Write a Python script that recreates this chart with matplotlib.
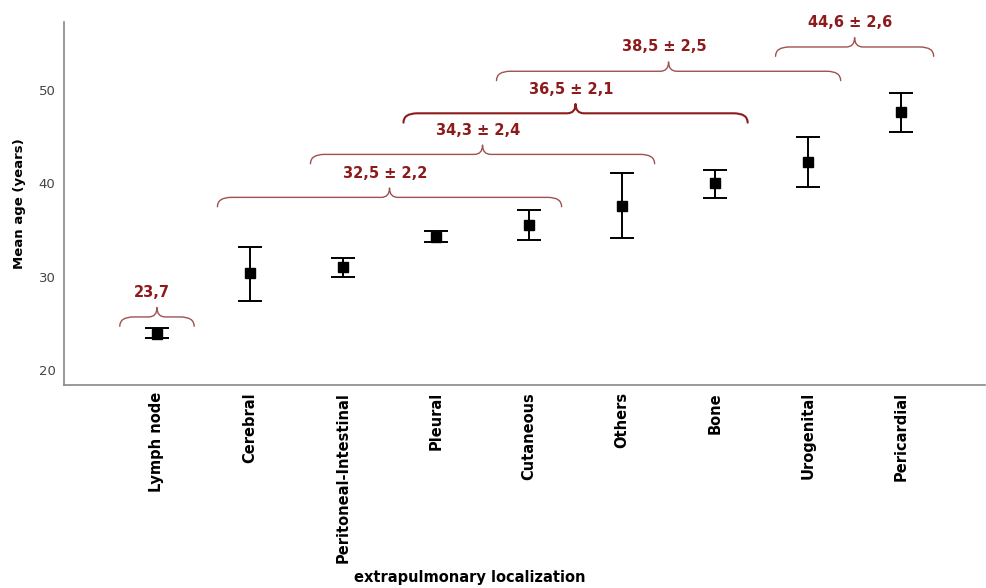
import matplotlib
matplotlib.use("Agg")
import matplotlib.pyplot as plt
from matplotlib.path import Path
from matplotlib.patches import PathPatch

categories = ["Lymph node", "Cerebral", "Peritoneal-Intestinal", "Pleural", "Cutaneous",
              "Others", "Bone", "Urogenital", "Pericardial"]
means = [23.9, 30.4, 31.0, 34.3, 35.5, 37.6, 40.0, 42.3, 47.6]
lower = [23.4, 27.4, 30.0, 33.7, 33.9, 34.1, 38.4, 39.6, 45.5]
upper = [24.5, 33.2, 32.0, 34.9, 37.1, 41.1, 41.4, 45.0, 49.7]

# group annotations: label, first category, last category, bracket level
group_labels = ["23,7", "32,5 ± 2,2", "34,3 ± 2,4", "36,5 ± 2,1", "38,5 ± 2,5", "44,6 ± 2,6"]
group_start = [0, 1, 2, 3, 4, 7]
group_end = [0, 4, 5, 6, 7, 8]
group_level = [25.7, 38.5, 43.1, 47.5, 52.0, 54.6]

plt.rcParams['font.family'] = ['DejaVu Sans']
fig = plt.figure(figsize=(9.87, 5.88), dpi=100)
ax = fig.add_axes([0.0648, 0.345, 0.933, 0.618])

x = list(range(len(categories)))
yerr = [[m - l for m, l in zip(means, lower)], [u - m for m, u in zip(means, upper)]]
ax.errorbar(x, means, yerr=yerr, fmt='s', color='black', markersize=7,
            ecolor='black', elinewidth=1.4, capsize=8.5, capthick=1.4)

def brace(ax, x0, x1, y, color, lw, d=1.0, h=1.0, r=0.15, tw=0.09):
    xm = (x0 + x1) / 2
    verts = [(x0, y - d), (x0, y), (x0 + r, y),
             (xm - tw, y),
             (xm, y), (xm, y + h),
             (xm, y), (xm + tw, y),
             (x1 - r, y),
             (x1, y), (x1, y - d)]
    codes = [Path.MOVETO, Path.CURVE3, Path.CURVE3,
             Path.LINETO,
             Path.CURVE3, Path.CURVE3,
             Path.CURVE3, Path.CURVE3,
             Path.LINETO,
             Path.CURVE3, Path.CURVE3]
    ax.add_patch(PathPatch(Path(verts, codes), facecolor='none', edgecolor=color,
                           lw=lw, capstyle='round', joinstyle='round', clip_on=False))
    return xm

for lab, s, e, lev in zip(group_labels, group_start, group_end, group_level):
    x0 = s - 0.4 if s == e else s - 0.35
    x1 = e + 0.4 if s == e else e + 0.35
    if lab.startswith("36,5"):
        col, lw = '#8e1b1b', 1.5
    else:
        col, lw = '#a05050', 1.0
    xm = brace(ax, x0, x1, lev, col, lw)
    ax.text(xm - 0.05, lev + 2.6, lab, ha='center', va='center', color='#8e1b1b',
            fontsize=10.5, fontweight='bold', clip_on=False)

ax.set_xlim(-1.0, 8.9)
ax.set_ylim(18.4, 57.3)
ax.set_yticks([20, 30, 40, 50])
ax.set_xticks(x)
ax.set_xticklabels(categories, rotation=90, fontsize=10.5, fontweight='bold', va='top')
ax.tick_params(axis='x', length=0, pad=5)
ax.tick_params(axis='y', length=0, labelsize=9.5, labelcolor='#444444', pad=6)
for side in ['top', 'right']:
    ax.spines[side].set_visible(False)
for side in ['left', 'bottom']:
    ax.spines[side].set_color('#888888')
    ax.spines[side].set_linewidth(1.2)
ax.set_ylabel("Mean age (years)", fontsize=9.5, fontweight='bold', labelpad=9)
fig.text(0.476, 0.018, "extrapulmonary localization", ha='center', va='center',
         fontsize=10.5, fontweight='bold')

fig.savefig("out.png", dpi=100)
